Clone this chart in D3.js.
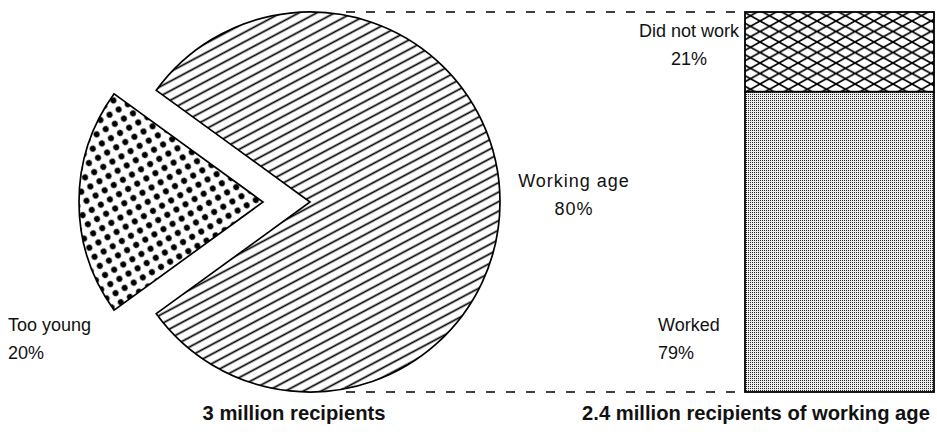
<!DOCTYPE html>
<html>
<head>
<meta charset="utf-8">
<script src="https://cdn.jsdelivr.net/npm/d3@7"></script>
<style>
  html, body { margin: 0; padding: 0; background: #fff; }
  svg { display: block; }
  .lbl { font-family: "Liberation Sans", Arial, sans-serif; font-size: 18px; fill: #111; }
  .ttl { font-family: "Liberation Sans", Arial, sans-serif; font-weight: bold; font-size: 20.2px; fill: #111; }
</style>
</head>
<body>
<script>
// ---- data ----
const pieCategories = ["Working age", "Too young"];
const pieValues = [80, 20];
const pieValueLabels = ["80%", "20%"];
const barCategories = ["Did not work", "Worked"];
const barValues = [21, 79];
const barValueLabels = ["21%", "79%"];
const titles = ["3 million recipients", "2.4 million recipients of working age"];

const W = 937, H = 436;
const svg = d3.select("body").append("svg").attr("width", W).attr("height", H);
const defs = svg.append("defs");

// diagonal hatch for working age
const hatch = defs.append("pattern").attr("id", "hatch").attr("patternUnits", "userSpaceOnUse")
  .attr("width", 20).attr("height", 8.4).attr("patternTransform", "rotate(-28)");
hatch.append("rect").attr("width", 20).attr("height", 8.4).attr("fill", "#fff");
hatch.append("line").attr("x1", 0).attr("x2", 20).attr("y1", 4.2).attr("y2", 4.2)
  .attr("stroke", "#000").attr("stroke-width", 1.7);

// dots for too young
const dots = defs.append("pattern").attr("id", "dots").attr("patternUnits", "userSpaceOnUse")
  .attr("width", 10.5).attr("height", 10.5).attr("patternTransform", "rotate(-30)");
dots.append("rect").attr("width", 10.5).attr("height", 10.5).attr("fill", "#fff");
dots.append("circle").attr("cx", 5.25).attr("cy", 5.25).attr("r", 3.0).attr("fill", "#000");

// crosshatch for did not work
const cw = 19, ch = 10.5;
const cross = defs.append("pattern").attr("id", "cross").attr("patternUnits", "userSpaceOnUse")
  .attr("width", cw).attr("height", ch);
cross.append("rect").attr("width", cw).attr("height", ch).attr("fill", "#fff");
cross.append("line").attr("x1", 0).attr("y1", 0).attr("x2", cw).attr("y2", ch).attr("stroke", "#000").attr("stroke-width", 1.7);
cross.append("line").attr("x1", 0).attr("y1", ch).attr("x2", cw).attr("y2", 0).attr("stroke", "#000").attr("stroke-width", 1.7);

// fine stipple for worked
const stip = defs.append("pattern").attr("id", "stip").attr("patternUnits", "userSpaceOnUse")
  .attr("width", 2).attr("height", 2);
stip.append("rect").attr("width", 2).attr("height", 2).attr("fill", "#ececec");
stip.append("rect").attr("width", 1).attr("height", 1).attr("fill", "#2a2a2a");

const fills = ["url(#hatch)", "url(#dots)"];
const barFills = ["url(#cross)", "url(#stip)"];

// ---- pie ----
const cx = 310, cy = 202;
const radii = [190, 184];
const explode = [0, 47];
const deg = Math.PI / 180;
const pie = d3.pie().sort(null).value(d => d)
  .startAngle(-54 * deg).endAngle(306 * deg);
const arcs = pie(pieValues);

const pg = svg.append("g").attr("transform", `translate(${cx},${cy})`);
pg.selectAll("path").data(arcs).join("path")
  .attr("transform", (d, i) => {
    const a = (d.startAngle + d.endAngle) / 2;
    return `translate(${Math.sin(a) * explode[i]},${-Math.cos(a) * explode[i]})`;
  })
  .attr("d", (d, i) => d3.arc().innerRadius(0).outerRadius(radii[i])(d))
  .attr("fill", (d, i) => fills[i])
  .attr("stroke", "#000").attr("stroke-width", 1.7).attr("stroke-linejoin", "miter");

// ---- bar ----
const barX = 745, barW = 189;
const y = d3.scaleLinear().domain([0, d3.sum(barValues)]).range([12, 392]);
const stackStarts = barValues.map((v, i) => d3.sum(barValues.slice(0, i)));
const bg = svg.append("g");
bg.selectAll("rect").data(barValues).join("rect")
  .attr("x", barX).attr("width", barW)
  .attr("y", (d, i) => y(stackStarts[i]))
  .attr("height", (d, i) => y(stackStarts[i] + d) - y(stackStarts[i]))
  .attr("fill", (d, i) => barFills[i])
  .attr("stroke", "#000").attr("stroke-width", 1.8);

// ---- connector dashed lines ----
const dashY = [y(0), y(d3.sum(barValues))];
svg.selectAll("line.dash").data(dashY).join("line").attr("class", "dash")
  .attr("x1", cx + 36).attr("x2", barX).attr("y1", d => d).attr("y2", d => d)
  .attr("stroke", "#000").attr("stroke-width", 1.6).attr("stroke-dasharray", "9,11");

// ---- labels ----
function label(x, yb, lines, anchor) {
  const t = svg.append("text").attr("class", "lbl").attr("text-anchor", anchor);
  lines.forEach((s, i) => t.append("tspan").attr("x", x).attr("y", yb + i * 28).text(s));
  return t;
}
label(574, 187, [pieCategories[0], pieValueLabels[0]], "middle").style("letter-spacing", "1px");
label(8, 331, [pieCategories[1], pieValueLabels[1]], "start");
label(689, 37, [barCategories[0], barValueLabels[0]], "middle");
label(658, 331, [barCategories[1], barValueLabels[1]], "start");

svg.append("text").attr("class", "ttl").attr("text-anchor", "middle").attr("x", 294).attr("y", 420).text(titles[0]);
svg.append("text").attr("class", "ttl").attr("text-anchor", "middle").attr("x", 756).attr("y", 420).text(titles[1]);
</script>
</body>
</html>
